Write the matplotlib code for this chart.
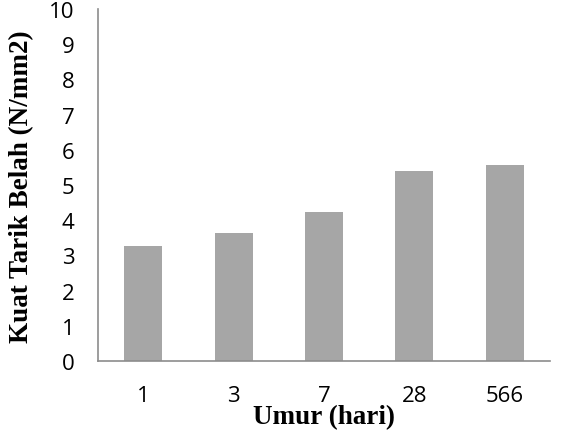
import numpy as np
import matplotlib.pyplot as plt

umur = ['1', '3', '7', '28', '566']
kuat_tarik = [3.28, 3.63, 4.23, 5.39, 5.57]

fig = plt.figure(figsize=(5.65, 4.31), dpi=100)
ax = fig.add_axes([0.1735, 0.160, 0.80, 0.817])

x = np.arange(len(umur))
ax.bar(x, kuat_tarik, width=0.42, color='#a6a6a6')

ax.set_xlim(-0.5, len(umur) - 0.5)
ax.set_ylim(0, 10)
ax.set_yticks(range(0, 11))
ax.set_xticks(x)
ax.set_xticklabels(umur)

for s in ['top', 'right']:
    ax.spines[s].set_visible(False)
for s in ['left', 'bottom']:
    ax.spines[s].set_color('#8c8c8c')
    ax.spines[s].set_linewidth(1.2)

ax.tick_params(axis='both', length=0, labelsize=16, colors='black')
ax.tick_params(axis='y', pad=17)
ax.tick_params(axis='x', pad=17)
for lab in ax.get_xticklabels() + ax.get_yticklabels():
    lab.set_fontfamily('Open Sans')

ax.set_xlabel('Umur (hari)', fontfamily='Liberation Serif', fontweight='bold',
              fontsize=19.5)
ax.set_ylabel('Kuat Tarik Belah (N/mm2)', fontfamily='Liberation Serif',
              fontweight='bold', fontsize=19.5)
ax.xaxis.label.set_va('center')
ax.yaxis.label.set_va('center')
ax.xaxis.set_label_coords(0.5, -0.159)
ax.yaxis.set_label_coords(-0.168, 0.497)

plt.savefig('out.png', dpi=100)
